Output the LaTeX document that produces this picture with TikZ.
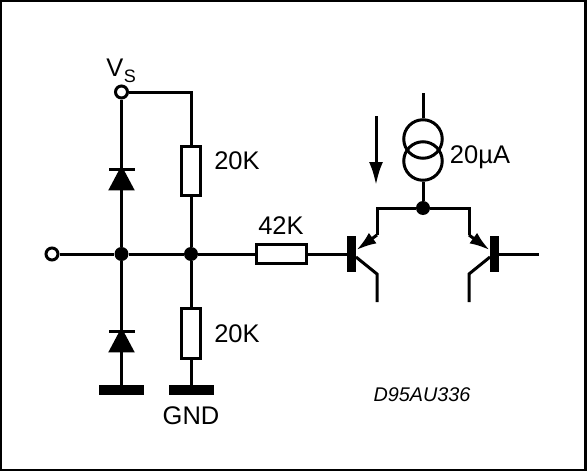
\documentclass[tikz,border=0pt]{standalone}
\usepackage{fontspec}
\setmainfont{Liberation Sans}
\usetikzlibrary{arrows.meta,shapes.geometric}
\begin{document}
\begin{tikzpicture}[x=1pt,y=-1pt]
% Estilos
\tikzset{
  wire/.style={line width=3pt},
  label/.style={inner sep=0pt, font=\fontsize{25.5}{28}\selectfont},
  terminal/.style={circle, draw, line width=3pt, fill=white, inner sep=0pt, minimum size=12pt},
  junction/.style={circle, fill=black, inner sep=0pt, minimum size=14pt},
  resistor/.style={rectangle, draw, line width=3pt, fill=white, inner sep=0pt},
  source/.style={circle, draw, line width=3pt, inner sep=0pt, minimum size=38.5pt},
  diode/.style={isosceles triangle, isosceles triangle apex angle=56, shape border rotate=90, fill=black, inner sep=0pt, minimum height=25pt},
  diodebar/.style={rectangle, fill=black, inner sep=0pt, minimum width=26pt, minimum height=3pt},
  gndbar/.style={rectangle, fill=black, inner sep=0pt, minimum width=45pt, minimum height=10pt},
  basebar/.style={rectangle, fill=black, inner sep=0pt, minimum width=9pt, minimum height=36pt},
  emitter/.style={wire, -{Latex[length=20pt, width=13pt]}}
}
\useasboundingbox (0,0) rectangle (587,471);

% Moldura
\node[rectangle, draw, line width=2.5pt, minimum width=584.5pt, minimum height=469.5pt, inner sep=0pt] (frame) at (293.25,235.75) {};

% Entrada e alimentacao
\node[terminal] (in) at (52,254) {};
\node[terminal] (vs) at (121.5,92) {};
\node[junction] (j_diode) at (121.5,254) {};
\node[junction] (j_res) at (191,254) {};

% Diodos
\node[diodebar] (bar_up) at (121.5,169) {};
\node[diode] (diode_up) at (121.5,182.5) {};
\node[diodebar] (bar_down) at (121.5,331) {};
\node[diode] (diode_down) at (121.5,344.5) {};
\node[gndbar] (gnd_diode) at (121.5,390) {};

% Resistores
\node[resistor, minimum width=18.5pt, minimum height=49.5pt] (r_up) at (191,171) {};
\node[resistor, minimum width=18.5pt, minimum height=49.5pt] (r_down) at (191,333.5) {};
\node[resistor, minimum width=50.5pt, minimum height=18.5pt] (r_base) at (281.5,254) {};
\node[gndbar] (gnd_res) at (191,390) {};

% Transistores
\node[basebar] (base_l) at (351.5,254) {};
\node[basebar] (base_r) at (494.5,254) {};
\coordinate (out) at (539,254);
\coordinate (em_l) at (377,235);
\coordinate (em_r) at (469,235);
\coordinate (tip_l) at (356.5,250);
\coordinate (tip_r) at (489.5,250);
\coordinate (top_l) at (377,208);
\coordinate (top_r) at (469,208);
\coordinate (col_l) at (377,274);
\coordinate (col_r) at (469,274);
\coordinate (end_l) at (377,302);
\coordinate (end_r) at (469,302);
\coordinate (col_base_l) at (356,257);
\coordinate (col_base_r) at (490,257);

% Fonte de corrente
\node[junction] (j_tail) at (423,208) {};
\node[source] (src_up) at (423,139) {};
\node[source] (src_down) at (423,161) {};
\coordinate (supply) at (423,93);
\coordinate (arrow_a) at (376,116);
\coordinate (arrow_b) at (376,185);

% Ligacoes
\draw[wire] (in) -- (j_diode);
\draw[wire] (j_diode) -- (j_res);
\draw[wire] (j_res) -- (r_base);
\draw[wire] (r_base) -- (base_l);
\draw[wire] (vs) -- (j_diode);
\draw[wire] (j_diode) -- (gnd_diode);
\draw[wire] (vs) -| (r_up);
\draw[wire] (r_up) -- (j_res);
\draw[wire] (j_res) -- (r_down);
\draw[wire] (r_down) -- (gnd_res);
\draw[wire] (supply) -- (src_up);
\draw[wire] (src_down) -- (j_tail);
\draw[wire] (j_tail) -- (top_l) -- (em_l);
\draw[wire] (j_tail) -- (top_r) -- (em_r);
\draw[emitter] (em_l) -- (tip_l);
\draw[emitter] (em_r) -- (tip_r);
\draw[wire] (col_base_l) -- (col_l) -- (end_l);
\draw[wire] (col_base_r) -- (col_r) -- (end_r);
\draw[wire] (base_r) -- (out);
\draw[wire, -{Latex[length=23pt, width=14pt]}] (arrow_a) -- (arrow_b);

% Textos
\node[label] (lbl_vs) at (115,68) {V};
\node[label, font=\fontsize{18}{22}\selectfont] (lbl_s) at (130,76.5) {S};
\node[label] (lbl_r_up) at (237,161) {20K};
\node[label] (lbl_r_down) at (237,334) {20K};
\node[label] (lbl_r_base) at (281,226) {42K};
\node[label] (lbl_gnd) at (191,416) {GND};
\node[label] (lbl_src) at (480,157) {20µA};
\node[label, font=\fontsize{19.8}{22}\selectfont\itshape] (lbl_code) at (422,395) {D95AU336};
\end{tikzpicture}
\end{document}
